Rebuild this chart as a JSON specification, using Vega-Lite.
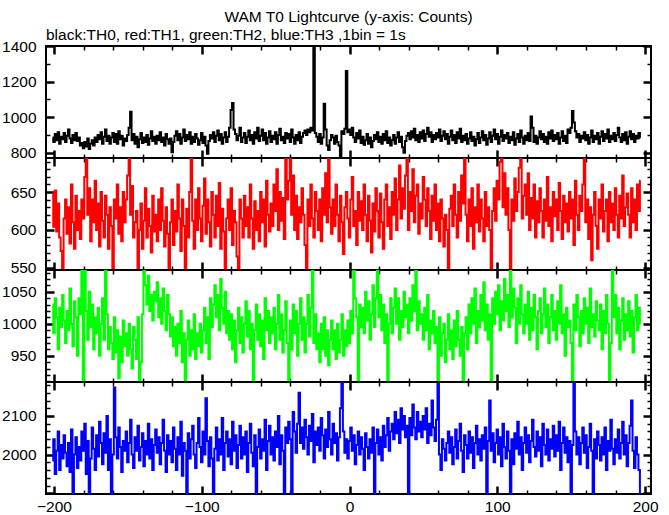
{
"$schema":"https://vega.github.io/schema/vega-lite/v6.json",
"title":{"text":"WAM T0 Lightcurve (y-axis: Counts)","anchor":"middle","frame":"group","offset":1},
"padding":{"left":0,"top":10,"right":5,"bottom":5},
"spacing":0,
"bounds":"flush",
"data":{"values":[
{"t":-201,"th0":885,"th1":648,"th2":1030,"th3":1985},{"t":-200,"th0":860,"th1":604,"th2":985,"th3":2040},{"t":-199,"th0":905,"th1":652,"th2":1040,"th3":1950},{"t":-198,"th0":870,"th1":598,"th2":1010,"th3":2010},{"t":-197,"th0":915,"th1":635,"th2":960,"th3":2060},{"t":-196,"th0":850,"th1":590,"th2":1025,"th3":1960},{"t":-195,"th0":890,"th1":572,"th2":995,"th3":2025},{"t":-194,"th0":875,"th1":548,"th2":1045,"th3":1990},{"t":-193,"th0":910,"th1":615,"th2":1005,"th3":2050},{"t":-192,"th0":860,"th1":640,"th2":970,"th3":2005},
{"t":-191,"th0":895,"th1":595,"th2":1020,"th3":1970},{"t":-190,"th0":930,"th1":630,"th2":990,"th3":2030},{"t":-189,"th0":880,"th1":582,"th2":1055,"th3":1955},{"t":-188,"th0":855,"th1":660,"th2":1000,"th3":2065},{"t":-187,"th0":900,"th1":610,"th2":965,"th3":1897},{"t":-186,"th0":870,"th1":575,"th2":1035,"th3":2000},{"t":-185,"th0":910,"th1":645,"th2":1010,"th3":2045},{"t":-184,"th0":865,"th1":600,"th2":950,"th3":1965},{"t":-183,"th0":885,"th1":625,"th2":1040,"th3":2020},{"t":-182,"th0":840,"th1":588,"th2":1015,"th3":1985},
{"t":-181,"th0":855,"th1":640,"th2":1084,"th3":2060},{"t":-180,"th0":825,"th1":615,"th2":910,"th3":2010},{"t":-179,"th0":860,"th1":670,"th2":1084,"th3":2080},{"t":-178,"th0":835,"th1":697,"th2":1020,"th3":1950},{"t":-177,"th0":880,"th1":620,"th2":975,"th3":2035},{"t":-176,"th0":820,"th1":655,"th2":1050,"th3":1897},{"t":-175,"th0":850,"th1":585,"th2":995,"th3":1990},{"t":-174,"th0":870,"th1":640,"th2":1030,"th3":2070},{"t":-173,"th0":840,"th1":610,"th2":960,"th3":2015},{"t":-172,"th0":885,"th1":665,"th2":1010,"th3":1960},
{"t":-171,"th0":860,"th1":600,"th2":985,"th3":2050},{"t":-170,"th0":900,"th1":635,"th2":1025,"th3":1995},{"t":-169,"th0":875,"th1":578,"th2":950,"th3":2085},{"t":-168,"th0":915,"th1":650,"th2":1000,"th3":2030},{"t":-167,"th0":850,"th1":612,"th2":1040,"th3":1975},{"t":-166,"th0":890,"th1":590,"th2":975,"th3":2055},{"t":-165,"th0":930,"th1":645,"th2":1084,"th3":2005},{"t":-164,"th0":865,"th1":620,"th2":1015,"th3":2100},{"t":-163,"th0":895,"th1":575,"th2":960,"th3":1960},{"t":-162,"th0":850,"th1":630,"th2":995,"th3":2040},
{"t":-161,"th0":885,"th1":605,"th2":970,"th3":1897},{"t":-160,"th0":910,"th1":548,"th2":945,"th3":2000},{"t":-159,"th0":860,"th1":640,"th2":1010,"th3":2174},{"t":-158,"th0":905,"th1":615,"th2":955,"th3":2045},{"t":-157,"th0":850,"th1":660,"th2":990,"th3":1990},{"t":-156,"th0":920,"th1":595,"th2":915,"th3":2070},{"t":-155,"th0":875,"th1":630,"th2":980,"th3":2020},{"t":-154,"th0":895,"th1":585,"th2":940,"th3":1955},{"t":-153,"th0":840,"th1":650,"th2":1005,"th3":2035},{"t":-152,"th0":880,"th1":610,"th2":965,"th3":2010},
{"t":-151,"th0":865,"th1":640,"th2":985,"th3":2060},{"t":-150,"th0":900,"th1":672,"th2":950,"th3":1980},{"t":-149,"th0":940,"th1":697,"th2":1000,"th3":2030},{"t":-148,"th0":1030,"th1":620,"th2":960,"th3":2090},{"t":-147,"th0":870,"th1":658,"th2":930,"th3":2000},{"t":-146,"th0":905,"th1":590,"th2":995,"th3":1965},{"t":-145,"th0":850,"th1":610,"th2":975,"th3":2045},{"t":-144,"th0":890,"th1":625,"th2":945,"th3":2010},{"t":-143,"th0":830,"th1":548,"th2":1010,"th3":2075},{"t":-142,"th0":875,"th1":600,"th2":912,"th3":1985},
{"t":-141,"th0":910,"th1":635,"th2":940,"th3":2020},{"t":-140,"th0":855,"th1":575,"th2":1015,"th3":2055},{"t":-139,"th0":885,"th1":612,"th2":1084,"th3":1970},{"t":-138,"th0":860,"th1":655,"th2":1060,"th3":2035},{"t":-137,"th0":900,"th1":590,"th2":1030,"th3":2000},{"t":-136,"th0":845,"th1":628,"th2":1075,"th3":2080},{"t":-135,"th0":880,"th1":605,"th2":1020,"th3":1990},{"t":-134,"th0":920,"th1":570,"th2":1045,"th3":2040},{"t":-133,"th0":865,"th1":645,"th2":1005,"th3":1960},{"t":-132,"th0":890,"th1":598,"th2":1050,"th3":2025},
{"t":-131,"th0":850,"th1":620,"th2":1035,"th3":2065},{"t":-130,"th0":895,"th1":585,"th2":1065,"th3":2005},{"t":-129,"th0":870,"th1":640,"th2":1010,"th3":2045},{"t":-128,"th0":915,"th1":600,"th2":1040,"th3":1975},{"t":-127,"th0":860,"th1":655,"th2":1000,"th3":2030},{"t":-126,"th0":885,"th1":612,"th2":1055,"th3":2090},{"t":-125,"th0":840,"th1":578,"th2":1020,"th3":2010},{"t":-124,"th0":905,"th1":630,"th2":990,"th3":1955},{"t":-123,"th0":875,"th1":595,"th2":1045,"th3":2050},{"t":-122,"th0":850,"th1":548,"th2":1015,"th3":2000},
{"t":-121,"th0":880,"th1":610,"th2":980,"th3":2035},{"t":-120,"th0":803,"th1":640,"th2":1010,"th3":1980},{"t":-119,"th0":860,"th1":580,"th2":965,"th3":2070},{"t":-118,"th0":895,"th1":625,"th2":995,"th3":2015},{"t":-117,"th0":920,"th1":598,"th2":950,"th3":1960},{"t":-116,"th0":870,"th1":660,"th2":1000,"th3":2045},{"t":-115,"th0":905,"th1":615,"th2":970,"th3":2000},{"t":-114,"th0":850,"th1":572,"th2":1020,"th3":2085},{"t":-113,"th0":885,"th1":640,"th2":940,"th3":1945},{"t":-112,"th0":930,"th1":605,"th2":985,"th3":2030},
{"t":-111,"th0":865,"th1":548,"th2":912,"th3":2010},{"t":-110,"th0":900,"th1":628,"th2":975,"th3":1897},{"t":-109,"th0":875,"th1":590,"th2":1005,"th3":2055},{"t":-108,"th0":915,"th1":650,"th2":950,"th3":1990},{"t":-107,"th0":850,"th1":697,"th2":990,"th3":2040},{"t":-106,"th0":890,"th1":612,"th2":960,"th3":2075},{"t":-105,"th0":860,"th1":575,"th2":1015,"th3":2000},{"t":-104,"th0":905,"th1":640,"th2":945,"th3":1965},{"t":-103,"th0":880,"th1":600,"th2":985,"th3":2030},{"t":-102,"th0":845,"th1":655,"th2":965,"th3":2095},
{"t":-101,"th0":870,"th1":615,"th2":1000,"th3":2020},{"t":-100,"th0":910,"th1":585,"th2":955,"th3":1980},{"t":-99,"th0":855,"th1":632,"th2":990,"th3":2060},{"t":-98,"th0":890,"th1":668,"th2":1025,"th3":2000},{"t":-97,"th0":840,"th1":595,"th2":970,"th3":2146},{"t":-96,"th0":794,"th1":640,"th2":1010,"th3":2035},{"t":-95,"th0":865,"th1":610,"th2":945,"th3":1970},{"t":-94,"th0":900,"th1":578,"th2":1040,"th3":2045},{"t":-93,"th0":880,"th1":650,"th2":995,"th3":1990},{"t":-92,"th0":915,"th1":620,"th2":1030,"th3":1897},
{"t":-91,"th0":860,"th1":590,"th2":1060,"th3":2015},{"t":-90,"th0":895,"th1":645,"th2":1010,"th3":2070},{"t":-89,"th0":925,"th1":605,"th2":1045,"th3":1985},{"t":-88,"th0":870,"th1":662,"th2":990,"th3":2040},{"t":-87,"th0":905,"th1":575,"th2":1070,"th3":2000},{"t":-86,"th0":850,"th1":628,"th2":1025,"th3":2095},{"t":-85,"th0":885,"th1":598,"th2":1000,"th3":1960},{"t":-84,"th0":915,"th1":548,"th2":1050,"th3":2030},{"t":-83,"th0":860,"th1":615,"th2":985,"th3":2060},{"t":-82,"th0":890,"th1":640,"th2":1020,"th3":1995},
{"t":-81,"th0":940,"th1":600,"th2":975,"th3":2040},{"t":-80,"th0":1040,"th1":655,"th2":1015,"th3":1975},{"t":-79,"th0":1079,"th1":580,"th2":960,"th3":2085},{"t":-78,"th0":930,"th1":625,"th2":1005,"th3":2010},{"t":-77,"th0":905,"th1":610,"th2":940,"th3":2050},{"t":-76,"th0":870,"th1":565,"th2":990,"th3":1965},{"t":-75,"th0":895,"th1":548,"th2":1025,"th3":2025},{"t":-74,"th0":940,"th1":640,"th2":970,"th3":2075},{"t":-73,"th0":860,"th1":615,"th2":1010,"th3":1990},{"t":-72,"th0":885,"th1":590,"th2":955,"th3":2045},
{"t":-71,"th0":910,"th1":645,"th2":1000,"th3":2000},{"t":-70,"th0":855,"th1":605,"th2":1035,"th3":2060},{"t":-69,"th0":890,"th1":630,"th2":980,"th3":1955},{"t":-68,"th0":925,"th1":590,"th2":1020,"th3":2030},{"t":-67,"th0":870,"th1":660,"th2":960,"th3":2080},{"t":-66,"th0":900,"th1":615,"th2":1000,"th3":2005},{"t":-65,"th0":850,"th1":575,"th2":912,"th3":1970},{"t":-64,"th0":915,"th1":638,"th2":990,"th3":2050},{"t":-63,"th0":880,"th1":600,"th2":1030,"th3":1897},{"t":-62,"th0":940,"th1":625,"th2":975,"th3":2020},
{"t":-61,"th0":865,"th1":585,"th2":1015,"th3":2065},{"t":-60,"th0":895,"th1":650,"th2":965,"th3":1990},{"t":-59,"th0":930,"th1":610,"th2":1005,"th3":2040},{"t":-58,"th0":870,"th1":640,"th2":945,"th3":2010},{"t":-57,"th0":910,"th1":578,"th2":1040,"th3":2090},{"t":-56,"th0":850,"th1":665,"th2":990,"th3":1960},{"t":-55,"th0":885,"th1":620,"th2":1020,"th3":2035},{"t":-54,"th0":920,"th1":598,"th2":970,"th3":2075},{"t":-53,"th0":860,"th1":635,"th2":1010,"th3":2000},{"t":-52,"th0":895,"th1":605,"th2":985,"th3":2045},
{"t":-51,"th0":875,"th1":660,"th2":1025,"th3":1985},{"t":-50,"th0":915,"th1":625,"th2":960,"th3":2060},{"t":-49,"th0":850,"th1":680,"th2":1000,"th3":2020},{"t":-48,"th0":900,"th1":600,"th2":1045,"th3":2100},{"t":-47,"th0":935,"th1":650,"th2":975,"th3":1975},{"t":-46,"th0":870,"th1":612,"th2":1015,"th3":2050},{"t":-45,"th0":890,"th1":642,"th2":955,"th3":2010},{"t":-44,"th0":855,"th1":588,"th2":990,"th3":1897},{"t":-43,"th0":910,"th1":697,"th2":1035,"th3":2070},{"t":-42,"th0":880,"th1":640,"th2":970,"th3":2030},
{"t":-41,"th0":905,"th1":665,"th2":910,"th3":2085},{"t":-40,"th0":860,"th1":697,"th2":1005,"th3":2040},{"t":-39,"th0":930,"th1":620,"th2":960,"th3":1897},{"t":-38,"th0":885,"th1":672,"th2":1030,"th3":2110},{"t":-37,"th0":850,"th1":600,"th2":985,"th3":2060},{"t":-36,"th0":900,"th1":645,"th2":1020,"th3":2005},{"t":-35,"th0":870,"th1":588,"th2":950,"th3":2080},{"t":-34,"th0":915,"th1":630,"th2":1000,"th3":2160},{"t":-33,"th0":855,"th1":610,"th2":1040,"th3":2030},{"t":-32,"th0":890,"th1":655,"th2":975,"th3":2070},
{"t":-31,"th0":910,"th1":620,"th2":1010,"th3":2015},{"t":-30,"th0":925,"th1":580,"th2":955,"th3":2090},{"t":-29,"th0":900,"th1":548,"th2":1000,"th3":2045},{"t":-28,"th0":930,"th1":640,"th2":1045,"th3":2000},{"t":-27,"th0":915,"th1":605,"th2":980,"th3":2075},{"t":-26,"th0":940,"th1":660,"th2":1025,"th3":2035},{"t":-25,"th0":925,"th1":615,"th2":1084,"th3":2105},{"t":-24,"th0":1395,"th1":590,"th2":970,"th3":1980},{"t":-23,"th0":910,"th1":650,"th2":1015,"th3":2060},{"t":-22,"th0":890,"th1":625,"th2":960,"th3":2025},
{"t":-21,"th0":860,"th1":600,"th2":985,"th3":2070},{"t":-20,"th0":905,"th1":640,"th2":940,"th3":2010},{"t":-19,"th0":850,"th1":585,"th2":1000,"th3":2095},{"t":-18,"th0":885,"th1":655,"th2":960,"th3":2050},{"t":-17,"th0":1075,"th1":620,"th2":1010,"th3":1990},{"t":-16,"th0":930,"th1":675,"th2":950,"th3":2065},{"t":-15,"th0":840,"th1":610,"th2":990,"th3":2020},{"t":-14,"th0":815,"th1":697,"th2":935,"th3":2110},{"t":-13,"th0":870,"th1":630,"th2":975,"th3":2040},{"t":-12,"th0":900,"th1":595,"th2":1005,"th3":2000},
{"t":-11,"th0":885,"th1":640,"th2":960,"th3":2080},{"t":-10,"th0":850,"th1":605,"th2":990,"th3":2030},{"t":-9,"th0":895,"th1":660,"th2":945,"th3":2055},{"t":-8,"th0":860,"th1":620,"th2":1000,"th3":1985},{"t":-7,"th0":840,"th1":585,"th2":955,"th3":2045},{"t":-6,"th0":775,"th1":645,"th2":975,"th3":2120},{"t":-5,"th0":920,"th1":610,"th2":1015,"th3":2187},{"t":-4,"th0":905,"th1":568,"th2":950,"th3":2060},{"t":-3,"th0":935,"th1":630,"th2":990,"th3":2005},{"t":-2,"th0":1259,"th1":650,"th2":965,"th3":2040},
{"t":-1,"th0":915,"th1":615,"th2":1005,"th3":1990},{"t":0,"th0":930,"th1":590,"th2":970,"th3":2035},{"t":1,"th0":900,"th1":640,"th2":1020,"th3":2070},{"t":2,"th0":940,"th1":670,"th2":985,"th3":2010},{"t":3,"th0":885,"th1":605,"th2":1084,"th3":2050},{"t":4,"th0":860,"th1":625,"th2":1040,"th3":1975},{"t":5,"th0":910,"th1":580,"th2":1010,"th3":2025},{"t":6,"th0":880,"th1":650,"th2":912,"th3":2060},{"t":7,"th0":925,"th1":612,"th2":1030,"th3":2000},{"t":8,"th0":855,"th1":638,"th2":995,"th3":2045},
{"t":9,"th0":890,"th1":600,"th2":1025,"th3":2015},{"t":10,"th0":845,"th1":660,"th2":985,"th3":1960},{"t":11,"th0":870,"th1":620,"th2":1050,"th3":2055},{"t":12,"th0":905,"th1":585,"th2":1005,"th3":2020},{"t":13,"th0":850,"th1":645,"th2":1035,"th3":1990},{"t":14,"th0":885,"th1":612,"th2":975,"th3":2040},{"t":15,"th0":830,"th1":570,"th2":1015,"th3":2005},{"t":16,"th0":865,"th1":635,"th2":1060,"th3":2070},{"t":17,"th0":900,"th1":598,"th2":995,"th3":1897},{"t":18,"th0":875,"th1":655,"th2":1040,"th3":2030},
{"t":19,"th0":915,"th1":625,"th2":1084,"th3":2065},{"t":20,"th0":860,"th1":590,"th2":1010,"th3":2000},{"t":21,"th0":890,"th1":648,"th2":1045,"th3":2045},{"t":22,"th0":850,"th1":610,"th2":990,"th3":1985},{"t":23,"th0":905,"th1":575,"th2":1030,"th3":2075},{"t":24,"th0":870,"th1":640,"th2":970,"th3":2020},{"t":25,"th0":920,"th1":660,"th2":1015,"th3":2050},{"t":26,"th0":855,"th1":605,"th2":912,"th3":2095},{"t":27,"th0":885,"th1":630,"th2":1000,"th3":2010},{"t":28,"th0":840,"th1":588,"th2":1040,"th3":2060},
{"t":29,"th0":870,"th1":650,"th2":985,"th3":2080},{"t":30,"th0":900,"th1":620,"th2":1025,"th3":2040},{"t":31,"th0":850,"th1":668,"th2":1055,"th3":2110},{"t":32,"th0":885,"th1":600,"th2":1000,"th3":2055},{"t":33,"th0":915,"th1":640,"th2":1040,"th3":2090},{"t":34,"th0":860,"th1":685,"th2":975,"th3":2030},{"t":35,"th0":890,"th1":615,"th2":1020,"th3":2120},{"t":36,"th0":830,"th1":655,"th2":995,"th3":2065},{"t":37,"th0":800,"th1":628,"th2":1050,"th3":2100},{"t":38,"th0":865,"th1":672,"th2":1010,"th3":2045},
{"t":39,"th0":895,"th1":697,"th2":1030,"th3":2075},{"t":40,"th0":910,"th1":600,"th2":985,"th3":1897},{"t":41,"th0":875,"th1":650,"th2":1040,"th3":2095},{"t":42,"th0":920,"th1":625,"th2":1005,"th3":2050},{"t":43,"th0":885,"th1":680,"th2":1060,"th3":2130},{"t":44,"th0":935,"th1":610,"th2":1020,"th3":2070},{"t":45,"th0":870,"th1":645,"th2":1084,"th3":2040},{"t":46,"th0":900,"th1":660,"th2":990,"th3":2110},{"t":47,"th0":860,"th1":595,"th2":1035,"th3":2060},{"t":48,"th0":915,"th1":635,"th2":1000,"th3":2085},
{"t":49,"th0":880,"th1":615,"th2":1015,"th3":2045},{"t":50,"th0":925,"th1":670,"th2":975,"th3":2100},{"t":51,"th0":865,"th1":640,"th2":1025,"th3":2065},{"t":52,"th0":905,"th1":605,"th2":990,"th3":2120},{"t":53,"th0":940,"th1":655,"th2":1045,"th3":2030},{"t":54,"th0":890,"th1":625,"th2":960,"th3":2080},{"t":55,"th0":915,"th1":588,"th2":1005,"th3":2050},{"t":56,"th0":860,"th1":645,"th2":985,"th3":2140},{"t":57,"th0":900,"th1":612,"th2":1020,"th3":2070},{"t":58,"th0":875,"th1":660,"th2":970,"th3":2035},
{"t":59,"th0":910,"th1":600,"th2":995,"th3":2090},{"t":60,"th0":885,"th1":635,"th2":912,"th3":2183},{"t":61,"th0":930,"th1":585,"th2":1010,"th3":2000},{"t":62,"th0":865,"th1":640,"th2":950,"th3":1960},{"t":63,"th0":895,"th1":615,"th2":985,"th3":2040},{"t":64,"th0":920,"th1":578,"th2":1000,"th3":2015},{"t":65,"th0":875,"th1":620,"th2":940,"th3":1985},{"t":66,"th0":905,"th1":600,"th2":975,"th3":2030},{"t":67,"th0":850,"th1":548,"th2":1015,"th3":2060},{"t":68,"th0":890,"th1":628,"th2":960,"th3":2005},
{"t":69,"th0":925,"th1":645,"th2":990,"th3":2045},{"t":70,"th0":870,"th1":605,"th2":945,"th3":1975},{"t":71,"th0":900,"th1":660,"th2":1005,"th3":2020},{"t":72,"th0":855,"th1":620,"th2":965,"th3":2065},{"t":73,"th0":915,"th1":590,"th2":1020,"th3":1990},{"t":74,"th0":880,"th1":650,"th2":975,"th3":2035},{"t":75,"th0":935,"th1":612,"th2":950,"th3":2080},{"t":76,"th0":860,"th1":672,"th2":995,"th3":2010},{"t":77,"th0":895,"th1":635,"th2":912,"th3":1955},{"t":78,"th0":870,"th1":697,"th2":985,"th3":2050},
{"t":79,"th0":905,"th1":620,"th2":1010,"th3":2025},{"t":80,"th0":850,"th1":585,"th2":960,"th3":1990},{"t":81,"th0":880,"th1":640,"th2":1030,"th3":2060},{"t":82,"th0":915,"th1":605,"th2":985,"th3":2005},{"t":83,"th0":865,"th1":655,"th2":1040,"th3":2045},{"t":84,"th0":890,"th1":575,"th2":1000,"th3":1965},{"t":85,"th0":840,"th1":630,"th2":1055,"th3":2030},{"t":86,"th0":875,"th1":610,"th2":970,"th3":2075},{"t":87,"th0":910,"th1":660,"th2":1020,"th3":2000},{"t":88,"th0":855,"th1":598,"th2":995,"th3":2040},
{"t":89,"th0":885,"th1":640,"th2":1045,"th3":1985},{"t":90,"th0":920,"th1":615,"th2":1005,"th3":2050},{"t":91,"th0":870,"th1":585,"th2":1065,"th3":2015},{"t":92,"th0":900,"th1":650,"th2":990,"th3":2070},{"t":93,"th0":845,"th1":605,"th2":1030,"th3":1897},{"t":94,"th0":880,"th1":630,"th2":975,"th3":2035},{"t":95,"th0":915,"th1":600,"th2":1015,"th3":2140},{"t":96,"th0":860,"th1":548,"th2":912,"th3":2010},{"t":97,"th0":895,"th1":625,"th2":1040,"th3":2055},{"t":98,"th0":930,"th1":655,"th2":1000,"th3":1980},
{"t":99,"th0":875,"th1":612,"th2":1050,"th3":2030},{"t":100,"th0":905,"th1":665,"th2":1015,"th3":2065},{"t":101,"th0":850,"th1":640,"th2":1060,"th3":2000},{"t":102,"th0":890,"th1":690,"th2":990,"th3":2045},{"t":103,"th0":925,"th1":697,"th2":1035,"th3":1970},{"t":104,"th0":865,"th1":630,"th2":1005,"th3":2080},{"t":105,"th0":900,"th1":675,"th2":1070,"th3":2020},{"t":106,"th0":880,"th1":620,"th2":1020,"th3":1990},{"t":107,"th0":910,"th1":655,"th2":1045,"th3":2060},{"t":108,"th0":855,"th1":600,"th2":995,"th3":2010},
{"t":109,"th0":890,"th1":548,"th2":1084,"th3":1897},{"t":110,"th0":870,"th1":640,"th2":1010,"th3":2040},{"t":111,"th0":915,"th1":612,"th2":1055,"th3":1975},{"t":112,"th0":845,"th1":668,"th2":1025,"th3":2055},{"t":113,"th0":880,"th1":625,"th2":970,"th3":2015},{"t":114,"th0":905,"th1":650,"th2":1040,"th3":2085},{"t":115,"th0":860,"th1":682,"th2":1000,"th3":2000},{"t":116,"th0":925,"th1":697,"th2":1060,"th3":2045},{"t":117,"th0":885,"th1":615,"th2":1015,"th3":1960},{"t":118,"th0":850,"th1":645,"th2":985,"th3":2030},
{"t":119,"th0":895,"th1":660,"th2":1030,"th3":2070},{"t":120,"th0":870,"th1":620,"th2":1000,"th3":2005},{"t":121,"th0":910,"th1":675,"th2":1050,"th3":2050},{"t":122,"th0":865,"th1":600,"th2":975,"th3":1980},{"t":123,"th0":1004,"th1":642,"th2":1025,"th3":2035},{"t":124,"th0":940,"th1":615,"th2":990,"th3":2090},{"t":125,"th0":860,"th1":660,"th2":1045,"th3":2020},{"t":126,"th0":895,"th1":590,"th2":1010,"th3":1995},{"t":127,"th0":850,"th1":638,"th2":960,"th3":2060},{"t":128,"th0":885,"th1":610,"th2":1020,"th3":2010},
{"t":129,"th0":920,"th1":655,"th2":1040,"th3":2045},{"t":130,"th0":875,"th1":625,"th2":985,"th3":1970},{"t":131,"th0":905,"th1":590,"th2":1015,"th3":2080},{"t":132,"th0":860,"th1":640,"th2":1055,"th3":2025},{"t":133,"th0":890,"th1":612,"th2":995,"th3":2000},{"t":134,"th0":850,"th1":670,"th2":1030,"th3":2065},{"t":135,"th0":915,"th1":605,"th2":970,"th3":1985},{"t":136,"th0":880,"th1":630,"th2":1010,"th3":2040},{"t":137,"th0":925,"th1":585,"th2":1045,"th3":2015},{"t":138,"th0":865,"th1":650,"th2":990,"th3":2075},
{"t":139,"th0":900,"th1":618,"th2":1020,"th3":1995},{"t":140,"th0":875,"th1":640,"th2":975,"th3":2050},{"t":141,"th0":910,"th1":600,"th2":1035,"th3":2010},{"t":142,"th0":850,"th1":662,"th2":1000,"th3":2085},{"t":143,"th0":885,"th1":625,"th2":1060,"th3":1960},{"t":144,"th0":920,"th1":588,"th2":985,"th3":2030},{"t":145,"th0":865,"th1":645,"th2":1015,"th3":2070},{"t":146,"th0":895,"th1":610,"th2":950,"th3":2005},{"t":147,"th0":855,"th1":635,"th2":1025,"th3":2045},{"t":148,"th0":930,"th1":598,"th2":995,"th3":1980},
{"t":149,"th0":910,"th1":650,"th2":1005,"th3":2035},{"t":150,"th0":940,"th1":615,"th2":970,"th3":1897},{"t":151,"th0":1034,"th1":640,"th2":912,"th3":2025},{"t":152,"th0":970,"th1":580,"th2":1030,"th3":2187},{"t":153,"th0":920,"th1":665,"th2":990,"th3":2060},{"t":154,"th0":885,"th1":620,"th2":1045,"th3":2000},{"t":155,"th0":905,"th1":600,"th2":1010,"th3":2045},{"t":156,"th0":860,"th1":645,"th2":965,"th3":1975},{"t":157,"th0":895,"th1":625,"th2":1020,"th3":2030},{"t":158,"th0":880,"th1":660,"th2":985,"th3":2070},
{"t":159,"th0":915,"th1":697,"th2":1040,"th3":2005},{"t":160,"th0":870,"th1":610,"th2":1000,"th3":2050},{"t":161,"th0":900,"th1":640,"th2":1025,"th3":1965},{"t":162,"th0":850,"th1":588,"th2":970,"th3":2020},{"t":163,"th0":885,"th1":630,"th2":1055,"th3":2080},{"t":164,"th0":925,"th1":560,"th2":995,"th3":2010},{"t":165,"th0":860,"th1":620,"th2":1015,"th3":1897},{"t":166,"th0":895,"th1":650,"th2":980,"th3":2040},{"t":167,"th0":875,"th1":605,"th2":1035,"th3":1990},{"t":168,"th0":910,"th1":575,"th2":1005,"th3":2060},
{"t":169,"th0":850,"th1":640,"th2":990,"th3":2025},{"t":170,"th0":890,"th1":615,"th2":1030,"th3":1985},{"t":171,"th0":920,"th1":660,"th2":960,"th3":2045},{"t":172,"th0":865,"th1":598,"th2":1020,"th3":2000},{"t":173,"th0":905,"th1":625,"th2":985,"th3":2070},{"t":174,"th0":880,"th1":640,"th2":1045,"th3":1960},{"t":175,"th0":930,"th1":585,"th2":1000,"th3":2035},{"t":176,"th0":860,"th1":650,"th2":912,"th3":2010},{"t":177,"th0":895,"th1":610,"th2":970,"th3":2090},{"t":178,"th0":875,"th1":635,"th2":1084,"th3":2015},
{"t":179,"th0":910,"th1":600,"th2":1010,"th3":1975},{"t":180,"th0":865,"th1":655,"th2":1045,"th3":2040},{"t":181,"th0":900,"th1":620,"th2":985,"th3":2005},{"t":182,"th0":940,"th1":590,"th2":1025,"th3":2065},{"t":183,"th0":885,"th1":645,"th2":960,"th3":1990},{"t":184,"th0":860,"th1":615,"th2":1005,"th3":2030},{"t":185,"th0":905,"th1":672,"th2":1040,"th3":2085},{"t":186,"th0":870,"th1":605,"th2":975,"th3":2000},{"t":187,"th0":915,"th1":630,"th2":1015,"th3":2050},{"t":188,"th0":850,"th1":648,"th2":990,"th3":1970},
{"t":189,"th0":890,"th1":620,"th2":1035,"th3":2030},{"t":190,"th0":920,"th1":590,"th2":980,"th3":2075},{"t":191,"th0":875,"th1":655,"th2":1020,"th3":2140},{"t":192,"th0":905,"th1":610,"th2":955,"th3":2010},{"t":193,"th0":860,"th1":640,"th2":1010,"th3":1965},{"t":194,"th0":895,"th1":600,"th2":1045,"th3":2045},{"t":195,"th0":880,"th1":660,"th2":990,"th3":2000},{"t":196,"th0":910,"th1":625,"th2":1025,"th3":1960},{"t":197,"th0":885,"th1":665,"th2":1000,"th3":1897}
]},
"vconcat":[
{"width":605,"height":112,
 "title":{"text":"black:TH0, red:TH1, green:TH2, blue:TH3 ,1bin = 1s","anchor":"start","frame":"group","offset":-4},
 "layer":[
  {"mark":{"type":"line","interpolate":"step","color":"#000000","strokeWidth":2,"clip":true},
   "encoding":{
    "x":{"field":"t","type":"quantitative","title":null,"scale":{"domain":[-205.4,204],"nice":false,"zero":false},
         "axis":{"orient":"bottom","values":[-200,-180,-160,-140,-120,-100,-80,-60,-40,-20,0,20,40,60,80,100,120,140,160,180,200],"labels":false,
                 "tickSize":{"condition":{"test":"datum.value % 100 === 0","value":-8},"value":-4},"tickWidth":{"condition":{"test":"datum.value % 100 === 0","value":2.5},"value":1.5}}},
    "y":{"field":"th0","type":"quantitative","title":null,"scale":{"domain":[770,1400],"nice":false,"zero":false},
         "axis":{"orient":"left","values":[800,900,1000,1100,1200,1300,1400],"format":"d","labelPadding":18,
                 "labelExpr":"datum.value % 200 === 0 ? datum.label : ''",
                 "tickSize":{"condition":{"test":"datum.value % 200 === 0","value":-8},"value":-4},"tickWidth":{"condition":{"test":"datum.value % 200 === 0","value":2.5},"value":1.5}}}
   }},
  {"mark":{"type":"line","opacity":0,"clip":true},
   "encoding":{
    "x":{"field":"t","type":"quantitative","title":null,
         "axis":{"orient":"top","values":[-200,-180,-160,-140,-120,-100,-80,-60,-40,-20,0,20,40,60,80,100,120,140,160,180,200],"labels":false,
                 "tickSize":{"condition":{"test":"datum.value % 100 === 0","value":-8},"value":-4},"tickWidth":{"condition":{"test":"datum.value % 100 === 0","value":2.5},"value":1.5}}},
    "y":{"field":"th0","type":"quantitative","title":null,
         "axis":{"orient":"right","values":[800,900,1000,1100,1200,1300,1400],"labels":false,
                 "tickSize":{"condition":{"test":"datum.value % 200 === 0","value":-8},"value":-4},"tickWidth":{"condition":{"test":"datum.value % 200 === 0","value":2.5},"value":1.5}}}
   }}
 ],
 "resolve":{"axis":{"x":"independent","y":"independent"}}
},
{"width":605,"height":112,
 "layer":[
  {"mark":{"type":"line","interpolate":"step","color":"#ff0000","strokeWidth":2,"clip":true},
   "encoding":{
    "x":{"field":"t","type":"quantitative","title":null,"scale":{"domain":[-205.4,204],"nice":false,"zero":false},
         "axis":{"orient":"bottom","values":[-200,-180,-160,-140,-120,-100,-80,-60,-40,-20,0,20,40,60,80,100,120,140,160,180,200],"labels":false,
                 "tickSize":{"condition":{"test":"datum.value % 100 === 0","value":-8},"value":-4},"tickWidth":{"condition":{"test":"datum.value % 100 === 0","value":2.5},"value":1.5}}},
    "y":{"field":"th1","type":"quantitative","title":null,"scale":{"domain":[547,695],"nice":false,"zero":false},
         "axis":{"orient":"left","values":[550,560,570,580,590,600,610,620,630,640,650,660,670,680,690],"format":"d","labelPadding":18,
                 "labelExpr":"datum.value % 50 === 0 ? datum.label : ''",
                 "tickSize":{"condition":{"test":"datum.value % 50 === 0","value":-8},"value":-4},"tickWidth":{"condition":{"test":"datum.value % 50 === 0","value":2.5},"value":1.5}}}
   }},
  {"mark":{"type":"line","opacity":0,"clip":true},
   "encoding":{
    "x":{"field":"t","type":"quantitative","title":null,
         "axis":{"orient":"top","values":[-200,-180,-160,-140,-120,-100,-80,-60,-40,-20,0,20,40,60,80,100,120,140,160,180,200],"labels":false,
                 "tickSize":{"condition":{"test":"datum.value % 100 === 0","value":-8},"value":-4},"tickWidth":{"condition":{"test":"datum.value % 100 === 0","value":2.5},"value":1.5}}},
    "y":{"field":"th1","type":"quantitative","title":null,
         "axis":{"orient":"right","values":[550,560,570,580,590,600,610,620,630,640,650,660,670,680,690],"labels":false,
                 "tickSize":{"condition":{"test":"datum.value % 50 === 0","value":-8},"value":-4},"tickWidth":{"condition":{"test":"datum.value % 50 === 0","value":2.5},"value":1.5}}}
   }}
 ],
 "resolve":{"axis":{"x":"independent","y":"independent"}}
},
{"width":605,"height":112,
 "layer":[
  {"mark":{"type":"line","interpolate":"step","color":"#00ff00","strokeWidth":2,"clip":true},
   "encoding":{
    "x":{"field":"t","type":"quantitative","title":null,"scale":{"domain":[-205.4,204],"nice":false,"zero":false},
         "axis":{"orient":"bottom","values":[-200,-180,-160,-140,-120,-100,-80,-60,-40,-20,0,20,40,60,80,100,120,140,160,180,200],"labels":false,
                 "tickSize":{"condition":{"test":"datum.value % 100 === 0","value":-8},"value":-4},"tickWidth":{"condition":{"test":"datum.value % 100 === 0","value":2.5},"value":1.5}}},
    "y":{"field":"th2","type":"quantitative","title":null,"scale":{"domain":[909,1084],"nice":false,"zero":false},
         "axis":{"orient":"left","values":[910,920,930,940,950,960,970,980,990,1000,1010,1020,1030,1040,1050,1060,1070,1080],"format":"d","labelPadding":18,
                 "labelExpr":"datum.value % 50 === 0 ? datum.label : ''",
                 "tickSize":{"condition":{"test":"datum.value % 50 === 0","value":-8},"value":-4},"tickWidth":{"condition":{"test":"datum.value % 50 === 0","value":2.5},"value":1.5}}}
   }},
  {"mark":{"type":"line","opacity":0,"clip":true},
   "encoding":{
    "x":{"field":"t","type":"quantitative","title":null,
         "axis":{"orient":"top","values":[-200,-180,-160,-140,-120,-100,-80,-60,-40,-20,0,20,40,60,80,100,120,140,160,180,200],"labels":false,
                 "tickSize":{"condition":{"test":"datum.value % 100 === 0","value":-8},"value":-4},"tickWidth":{"condition":{"test":"datum.value % 100 === 0","value":2.5},"value":1.5}}},
    "y":{"field":"th2","type":"quantitative","title":null,
         "axis":{"orient":"right","values":[910,920,930,940,950,960,970,980,990,1000,1010,1020,1030,1040,1050,1060,1070,1080],"labels":false,
                 "tickSize":{"condition":{"test":"datum.value % 50 === 0","value":-8},"value":-4},"tickWidth":{"condition":{"test":"datum.value % 50 === 0","value":2.5},"value":1.5}}}
   }}
 ],
 "resolve":{"axis":{"x":"independent","y":"independent"}}
},
{"width":605,"height":112,
 "layer":[
  {"mark":{"type":"line","interpolate":"step","color":"#0000ff","strokeWidth":2,"clip":true},
   "encoding":{
    "x":{"field":"t","type":"quantitative","title":null,"scale":{"domain":[-205.4,204],"nice":false,"zero":false},
         "axis":{"orient":"bottom","values":[-200,-180,-160,-140,-120,-100,-80,-60,-40,-20,0,20,40,60,80,100,120,140,160,180,200],"format":"d","labelPadding":13,
                 "labelExpr":"datum.value % 100 === 0 ? datum.label : ''",
                 "tickSize":{"condition":{"test":"datum.value % 100 === 0","value":-8},"value":-4},"tickWidth":{"condition":{"test":"datum.value % 100 === 0","value":2.5},"value":1.5}}},
    "y":{"field":"th3","type":"quantitative","title":null,"scale":{"domain":[1898,2188],"nice":false,"zero":false},
         "axis":{"orient":"left","values":[1900,1920,1940,1960,1980,2000,2020,2040,2060,2080,2100,2120,2140,2160,2180],"format":"d","labelPadding":18,
                 "labelExpr":"datum.value % 100 === 0 && datum.value > 1950 ? datum.label : ''",
                 "tickSize":{"condition":{"test":"datum.value % 100 === 0","value":-8},"value":-4},"tickWidth":{"condition":{"test":"datum.value % 100 === 0","value":2.5},"value":1.5}}}
   }},
  {"mark":{"type":"line","opacity":0,"clip":true},
   "encoding":{
    "x":{"field":"t","type":"quantitative","title":null,
         "axis":{"orient":"top","values":[-200,-180,-160,-140,-120,-100,-80,-60,-40,-20,0,20,40,60,80,100,120,140,160,180,200],"labels":false,
                 "tickSize":{"condition":{"test":"datum.value % 100 === 0","value":-8},"value":-4},"tickWidth":{"condition":{"test":"datum.value % 100 === 0","value":2.5},"value":1.5}}},
    "y":{"field":"th3","type":"quantitative","title":null,
         "axis":{"orient":"right","values":[1900,1920,1940,1960,1980,2000,2020,2040,2060,2080,2100,2120,2140,2160,2180],"labels":false,
                 "tickSize":{"condition":{"test":"datum.value % 100 === 0","value":-8},"value":-4},"tickWidth":{"condition":{"test":"datum.value % 100 === 0","value":2.5},"value":1.5}}}
   }}
 ],
 "resolve":{"axis":{"x":"independent","y":"independent"}}
}
],
"config":{
 "font":"Liberation Sans",
 "view":{"stroke":"#000000","strokeWidth":2},
 "axis":{"domain":false,"grid":false,"tickColor":"#000000","labelColor":"#000000","labelFont":"Liberation Sans","labelFontSize":15.5,"minExtent":0,"labelOverlap":false,"labelFlush":false},
 "title":{"font":"Liberation Sans","fontSize":15.5,"fontWeight":"normal","color":"#000000"}
}
}
